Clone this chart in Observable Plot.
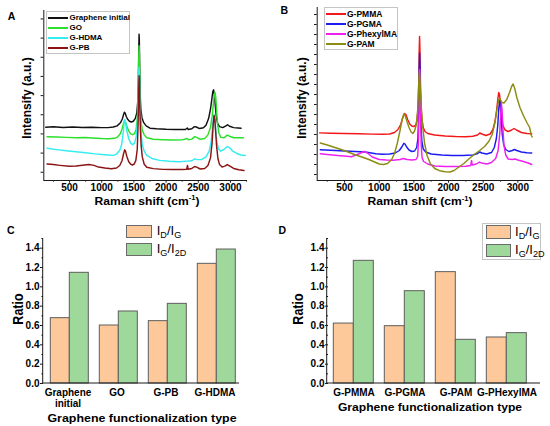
<!DOCTYPE html>
<html><head><meta charset="utf-8">
<script src="https://cdn.jsdelivr.net/npm/d3@7"></script>
<script src="https://cdn.jsdelivr.net/npm/@observablehq/plot@0.6"></script>
<style>
body{margin:0;background:#fff;}
#fig{position:relative;width:550px;height:426px;background:#fff;font-family:"Liberation Sans",Arial,sans-serif;color:#000;overflow:hidden}
.panel{position:absolute;width:275px}
.panel svg{display:block}
.lbl{position:absolute;white-space:nowrap;line-height:1;transform-origin:50% 50%}
.sup{font-size:0.62em;position:relative;top:-0.6em}
.sub{font-size:0.7em;position:relative;top:0.32em}
.box{position:absolute;border:1px solid #c4c4c4;box-sizing:border-box}
.lline{position:absolute;height:2px}
.sw{position:absolute;box-sizing:border-box;border:1px solid #6a6a6a}
</style></head><body><div id="fig"></div>
<script>
// ---------------- DATA ----------------
const ramanTicks = [500, 1000, 1500, 2000, 2500, 3000];
const ramanMinorTicks = [250, 750, 1250, 1750, 2250, 2750, 3250];
const intensityTicksA = [0, 1, 2, 3, 4, 5, 6, 7, 8];
const intensityTicksB = [0, 1, 2, 3, 4, 5, 6, 7, 8, 9, 10, 11, 12, 13, 14, 15, 16];

// Panel A spectra: [Raman shift (cm-1), intensity (a.u., offset)]
const grapheneInitial = [[130,2.35],[250,2.37],[400,2.34],[550,2.36],[700,2.34],[850,2.35],[1000,2.33],[1100,2.33],[1180,2.36],[1240,2.42],[1290,2.58],[1320,2.78],[1340,3.02],[1352,3.13],[1365,3.08],[1380,2.92],[1400,2.78],[1430,2.66],[1460,2.62],[1490,2.66],[1520,2.8],[1545,3.1],[1560,3.7],[1570,4.9],[1576,6.5],[1580,7.2],[1584,6.9],[1590,5.4],[1597,4.1],[1607,3.3],[1625,2.85],[1650,2.6],[1690,2.42],[1750,2.3],[1850,2.27],[2000,2.24],[2150,2.23],[2300,2.23],[2330,2.31],[2345,2.23],[2400,2.27],[2440,2.38],[2470,2.36],[2520,2.28],[2580,2.32],[2620,2.45],[2660,2.8],[2690,3.3],[2710,3.8],[2725,4.2],[2738,4.3],[2750,4.05],[2765,3.45],[2780,2.9],[2800,2.55],[2830,2.38],[2880,2.33],[2930,2.42],[2955,2.48],[2985,2.4],[3050,2.33],[3120,2.31],[3165,2.3]];
const grapheneOxide = [[150,1.85],[300,1.84],[450,1.82],[600,1.8],[750,1.81],[850,1.79],[1000,1.76],[1100,1.75],[1200,1.77],[1250,1.85],[1290,2.02],[1320,2.3],[1340,2.58],[1355,2.7],[1370,2.62],[1390,2.4],[1420,2.15],[1450,2.0],[1480,1.96],[1510,2.02],[1535,2.25],[1555,2.9],[1567,4.2],[1575,5.9],[1580,6.6],[1585,6.2],[1592,4.6],[1600,3.4],[1612,2.6],[1630,2.2],[1660,1.95],[1700,1.8],[1800,1.72],[1950,1.7],[2100,1.68],[2250,1.69],[2330,1.76],[2345,1.69],[2400,1.73],[2445,1.86],[2475,1.82],[2530,1.72],[2600,1.76],[2650,1.95],[2690,2.35],[2715,2.9],[2735,3.6],[2750,4.05],[2760,4.17],[2772,3.9],[2785,3.2],[2800,2.5],[2820,2.05],[2850,1.82],[2900,1.8],[2950,1.94],[2985,1.88],[3050,1.8],[3130,1.8],[3200,1.8]];
const grapheneHDMA = [[150,1.25],[300,1.18],[450,1.12],[600,1.07],[750,1.02],[900,0.96],[1000,0.93],[1100,0.9],[1180,0.88],[1230,0.95],[1280,1.15],[1310,1.45],[1335,2.1],[1350,2.65],[1360,2.75],[1372,2.55],[1390,2.15],[1420,1.75],[1450,1.52],[1480,1.44],[1510,1.52],[1535,1.85],[1555,2.6],[1567,3.8],[1575,5.0],[1580,5.48],[1585,5.2],[1592,4.0],[1600,2.9],[1612,2.0],[1630,1.45],[1660,1.1],[1700,0.88],[1780,0.72],[1900,0.62],[2050,0.57],[2200,0.55],[2330,0.58],[2400,0.6],[2445,0.7],[2480,0.66],[2550,0.66],[2620,0.8],[2670,1.1],[2700,1.6],[2720,2.3],[2735,2.85],[2746,3.0],[2758,2.8],[2772,2.2],[2790,1.55],[2815,1.2],[2850,1.1],[2900,1.2],[2950,1.34],[2980,1.3],[3030,1.12],[3100,0.98],[3160,0.9],[3230,0.87]];
const graphenePB = [[150,0.43],[250,0.4],[350,0.36],[500,0.31],[600,0.33],[700,0.37],[800,0.4],[880,0.36],[950,0.27],[1050,0.22],[1150,0.18],[1230,0.22],[1280,0.35],[1315,0.6],[1340,0.98],[1357,1.17],[1370,1.1],[1390,0.82],[1420,0.55],[1450,0.42],[1475,0.38],[1505,0.43],[1530,0.62],[1552,1.2],[1565,2.5],[1574,4.2],[1580,5.04],[1585,4.8],[1592,3.5],[1600,2.3],[1612,1.4],[1630,0.8],[1660,0.42],[1700,0.26],[1800,0.19],[1950,0.15],[2100,0.14],[2250,0.14],[2320,0.15],[2332,0.36],[2342,0.16],[2400,0.2],[2445,0.3],[2475,0.27],[2530,0.17],[2600,0.2],[2650,0.35],[2690,0.75],[2715,1.55],[2732,2.5],[2745,2.96],[2757,2.75],[2770,2.1],[2785,1.35],[2805,0.72],[2830,0.4],[2870,0.27],[2920,0.33],[2950,0.4],[2985,0.33],[3050,0.2],[3130,0.13],[3210,0.09]];

// Panel B spectra
const graphenePMMA = [[140,4.16],[300,4.12],[500,4.1],[700,4.08],[900,4.04],[1050,4.02],[1150,4.05],[1220,4.2],[1270,4.5],[1310,5.0],[1340,5.7],[1365,6.1],[1385,6.0],[1410,5.5],[1440,5.05],[1470,4.85],[1500,4.8],[1525,4.9],[1545,5.4],[1560,6.6],[1570,9.0],[1577,12.5],[1582,13.8],[1587,12.6],[1594,9.5],[1602,7.0],[1615,5.5],[1635,4.7],[1660,4.3],[1700,4.1],[1800,3.95],[1950,3.85],[2100,3.8],[2250,3.78],[2350,3.82],[2420,3.95],[2450,4.15],[2480,4.05],[2540,3.9],[2600,4.05],[2640,4.5],[2670,5.3],[2695,6.5],[2712,7.6],[2724,8.2],[2736,8.0],[2750,7.0],[2765,5.8],[2785,4.9],[2815,4.45],[2860,4.3],[2910,4.45],[2945,4.6],[2980,4.45],[3050,4.2],[3130,4.1],[3200,4.08]];
const graphenePGMA = [[150,2.48],[300,2.42],[500,2.35],[650,2.3],[800,2.25],[950,2.08],[1050,2.02],[1150,2.05],[1230,2.15],[1290,2.4],[1330,2.8],[1355,3.12],[1372,3.05],[1395,2.75],[1430,2.45],[1470,2.3],[1510,2.35],[1540,2.7],[1558,3.6],[1569,6.0],[1577,10.5],[1582,12.15],[1587,11.0],[1594,7.8],[1602,5.0],[1615,3.3],[1635,2.55],[1670,2.25],[1750,2.05],[1900,1.95],[2050,1.9],[2200,1.9],[2350,1.95],[2420,2.1],[2450,2.25],[2480,2.15],[2550,2.05],[2620,2.2],[2660,2.7],[2690,3.6],[2710,4.9],[2725,6.6],[2737,7.45],[2748,6.9],[2760,5.5],[2775,4.0],[2795,3.0],[2825,2.5],[2870,2.3],[2920,2.4],[2950,2.5],[2985,2.4],[3050,2.25],[3130,2.18],[3200,2.15]];
const graphenePhexylMA = [[150,2.08],[250,2.0],[400,1.9],[500,1.85],[600,1.78],[700,2.05],[780,2.3],[830,2.15],[900,1.75],[1000,1.5],[1100,1.45],[1200,1.42],[1300,1.5],[1350,1.6],[1400,1.5],[1470,1.45],[1530,1.5],[1555,1.8],[1567,3.5],[1576,7.5],[1583,10.5],[1589,9.5],[1596,6.0],[1605,3.0],[1618,1.7],[1640,1.3],[1700,1.05],[1800,0.85],[1950,0.8],[2100,0.8],[2250,0.82],[2320,0.9],[2332,1.41],[2342,0.95],[2400,1.05],[2445,1.24],[2480,1.15],[2550,1.05],[2620,1.2],[2680,1.6],[2715,2.4],[2738,4.0],[2752,6.0],[2762,7.1],[2772,6.5],[2785,4.5],[2800,2.9],[2825,1.95],[2860,1.55],[2920,1.5],[2960,1.55],[3000,1.45],[3080,1.3],[3150,1.15],[3200,1.0]];
const graphenePAM = [[150,3.15],[250,2.95],[350,2.72],[450,2.5],[550,2.25],[650,1.98],[750,1.75],[850,1.5],[950,1.2],[1000,1.05],[1060,1.0],[1120,1.1],[1180,1.5],[1220,2.1],[1260,3.1],[1300,4.4],[1330,5.5],[1355,6.05],[1375,5.9],[1400,5.3],[1430,4.7],[1460,4.25],[1485,4.1],[1510,4.35],[1535,5.0],[1555,6.5],[1568,8.8],[1578,10.3],[1585,9.9],[1595,8.2],[1610,6.4],[1630,4.6],[1655,3.1],[1690,1.9],[1740,1.05],[1800,0.6],[1870,0.38],[1950,0.28],[2020,0.25],[2080,0.4],[2150,0.75],[2220,1.1],[2300,1.6],[2380,2.05],[2450,2.4],[2520,2.8],[2580,3.3],[2630,4.0],[2670,5.2],[2700,6.6],[2725,7.5],[2745,7.55],[2770,7.2],[2800,7.15],[2840,7.5],[2880,8.2],[2910,8.8],[2932,9.05],[2955,8.6],[2985,7.7],[3030,6.7],[3080,5.9],[3130,5.2],[3170,4.7],[3195,3.9],[3205,3.76]];

// Panels C & D bar data
const ratioSeries = ["ID/IG", "IG/I2D"];
const categoriesC = ["Graphene initial", "GO", "G-PB", "G-HDMA"];
const idIgC = [0.676, 0.60, 0.645, 1.238];
const igI2dC = [1.145, 0.745, 0.824, 1.386];
const categoriesD = ["G-PMMA", "G-PGMA", "G-PAM", "G-PHexylMA"];
const idIgD = [0.62, 0.593, 1.152, 0.476];
const igI2dD = [1.269, 0.955, 0.452, 0.521];
const ratioTicks = [0, 0.2, 0.4, 0.6, 0.8, 1.0, 1.2, 1.4];
const ratioMinorTicks = [0.1, 0.3, 0.5, 0.7, 0.9, 1.1, 1.3, 1.5];

// ---------------- STYLE ----------------
const FONT = '"Liberation Sans", Arial, sans-serif';
const AX = "#1a1a1a";
const colA = {"Graphene initial": "#111111", "GO": "#2be02b", "G-HDMA": "#35ecf0", "G-PB": "#8b1414"};
const colB = {"G-PMMA": "#f21818", "G-PGMA": "#1c1cf0", "G-PhexylMA": "#f020f0", "G-PAM": "#8c8c14"};
const barColors = ["#fdc89a", "#9fd89b"];

const fig = document.getElementById("fig");
function place(node, left, top) {
  const w = document.createElement("div");
  w.className = "panel"; w.style.left = left + "px"; w.style.top = top + "px";
  w.appendChild(node); fig.appendChild(w);
}
function text(html, x, y, {size = 12, weight = "bold", rotate = false, sx = 1, left = false} = {}) {
  const d = document.createElement("div");
  d.className = "lbl"; d.innerHTML = html;
  d.style.left = x + "px"; d.style.top = y + "px";
  d.style.fontSize = size + "px"; d.style.fontWeight = weight;
  if (left) { d.style.transformOrigin = "0 50%"; d.style.transform = `translate(0,-50%) scaleX(${sx})`; }
  else d.style.transform = `translate(-50%,-50%) scaleX(${sx})` + (rotate ? " rotate(-90deg)" : "");
  fig.appendChild(d);
}
function div(cls, x, y, w, h, bg) {
  const d = document.createElement("div");
  d.className = cls;
  Object.assign(d.style, {left: x + "px", top: y + "px", width: w + "px", height: h + "px"});
  if (bg) d.style.background = bg;
  fig.appendChild(d);
}
const plotStyle = {fontFamily: FONT, fontSize: "10px", fontWeight: "bold", color: "#000", background: "transparent", overflow: "visible"};

function spectrum(series, xDomain, yDomain, yTicks, m) {
  return Plot.plot({
    width: 275, height: 195,
    marginLeft: m.left, marginRight: m.right, marginTop: m.top, marginBottom: m.bottom,
    x: {domain: xDomain},
    y: {domain: yDomain},
    style: plotStyle,
    marks: [
      ...series.map(s => Plot.line(s.data, {x: d => d[0], y: d => d[1], stroke: s.color, strokeWidth: 1.45})),
      Plot.ruleX([xDomain[0]], {stroke: AX, strokeWidth: 1}),
      Plot.ruleY([yDomain[0]], {stroke: AX, strokeWidth: 1}),
      Plot.axisX({ticks: ramanTicks, tickSize: 2.7, tickPadding: 0.6, tickFormat: d => String(d), label: null, stroke: AX}),
      Plot.axisX({ticks: ramanMinorTicks.filter(t => t > xDomain[0] && t < xDomain[1]), tickSize: 1.6, tickFormat: () => "", label: null, stroke: AX}),
      Plot.axisY({ticks: yTicks, tickSize: 2.7, tickFormat: () => "", label: null, stroke: AX})
    ]
  });
}

function bars(cats, s1, s2, m, xOpts, fmt, axisEnd) {
  const data = cats.flatMap((c, i) => [
    {cat: c, series: ratioSeries[0], value: s1[i]},
    {cat: c, series: ratioSeries[1], value: s2[i]}
  ]);
  const W = 275, H = 200;
  const svg = Plot.plot({
    width: W, height: H,
    marginLeft: m.left, marginRight: m.right, marginTop: m.top, marginBottom: m.bottom,
    fx: {domain: cats, padding: 0},
    x: {domain: ratioSeries, paddingInner: 0, axis: null, ...xOpts},
    y: {domain: [0, 1.5]},
    color: {domain: ratioSeries, range: barColors},
    style: plotStyle,
    marks: [
      Plot.barY(data, {fx: "cat", x: "series", y: "value", fill: "series", stroke: "#5e5e5e", strokeWidth: 1}),
      Plot.axisY({ticks: ratioTicks, tickSize: 3, tickPadding: 1, tickFormat: d3.format(".1f"), label: null, stroke: AX}),
      Plot.axisY({ticks: ratioMinorTicks, tickSize: 1.6, tickFormat: () => "", label: null, stroke: AX}),
      Plot.axisFx({anchor: "bottom", tickSize: 0, tickPadding: 5.5, tickFormat: fmt, lineHeight: 1.05, label: null})
    ]
  });
  const s = d3.select(svg);
  s.append("line").attr("x1", m.left).attr("x2", axisEnd).attr("y1", H - m.bottom).attr("y2", H - m.bottom).attr("stroke", AX).attr("stroke-width", 1);
  s.append("line").attr("x1", m.left).attr("x2", m.left).attr("y1", m.top).attr("y2", H - m.bottom).attr("stroke", AX).attr("stroke-width", 1);
  return svg;
}

// ---------------- PANELS ----------------
const seriesA = [
  {data: grapheneInitial, color: colA["Graphene initial"]},
  {data: grapheneOxide, color: colA["GO"]},
  {data: grapheneHDMA, color: colA["G-HDMA"]},
  {data: graphenePB, color: colA["G-PB"]}
];
const seriesB = [
  {data: graphenePMMA, color: colB["G-PMMA"]},
  {data: graphenePGMA, color: colB["G-PGMA"]},
  {data: graphenePhexylMA, color: colB["G-PhexylMA"]},
  {data: graphenePAM, color: colB["G-PAM"]}
];
place(spectrum(seriesA, [100, 3260], [-0.43, 8.44], intensityTicksA, {left: 43.3, right: 28.3, top: 10, bottom: 15}), 0, 0);
place(spectrum(seriesB, [105, 3230], [-0.6, 16.7], intensityTicksB, {left: 41.7, right: 16.7, top: 7, bottom: 15}), 275, 0);

place(bars(categoriesC, idIgC, igI2dC, {left: 42.7, right: 36, top: 25, bottom: 30},
  {paddingOuter: 0.265, align: 0.65}, d => d === "Graphene initial" ? "Graphene\ninitial" : d, 239), 0, 213);
place(bars(categoriesD, idIgD, igI2dD, {left: 51.7, right: 16.5, top: 25, bottom: 30},
  {paddingOuter: 0.26}, d => d, 265), 275, 213);

// ---------------- TEXT ----------------
text("A", 11.5, 16.3, {size: 10.5});
text("B", 284.3, 9.7, {size: 10.5});
text("C", 10.7, 229.5, {size: 10.5});
text("D", 282.3, 229.5, {size: 10.5});

const raman = 'Raman shift (cm<span class="sup">-1</span>)';
text(raman, 146.5, 200.5, {size: 11, sx: 1.1});
text(raman, 420, 201, {size: 11, sx: 1.1});
text("Intensify (a.u.)", 26.7, 97.5, {size: 12, rotate: true, sx: 1.1});
text("Intensify (a.u.)", 301.7, 97.5, {size: 12, rotate: true, sx: 1.1});
text("Graphene functionalization type", 142, 417.5, {size: 11, sx: 1.13});
text("Graphene functionalization type", 430, 406.5, {size: 11, sx: 1.1});
text("Ratio", 19, 309.3, {size: 12.5, rotate: true, sx: 1.1});
text("Ratio", 299.2, 309, {size: 12.5, rotate: true, sx: 1.1});

// Legend A
div("box", 46, 11, 84, 43);
const legA = ["Graphene initial", "GO", "G-HDMA", "G-PB"];
const rowsA = [17.7, 27.7, 37.7, 47.7];
legA.forEach((k, i) => { div("lline", 47.5, rowsA[i] - 1, 20.5, 2, colA[k]); text(k, 69.5, rowsA[i], {size: 8, left: true}); });
// Legend B
div("box", 323.5, 6.5, 74.5, 43.5);
const legB = ["G-PMMA", "G-PGMA", "G-PhexylMA", "G-PAM"];
const rowsB = [13.5, 23.7, 33.9, 44];
legB.forEach((k, i) => { div("lline", 325.5, rowsB[i] - 1, 20, 2, colB[k]); text(k, 347, rowsB[i], {size: 8.5, left: true}); });

// Legends C & D
const legRatio = ['I<span class="sub">D</span>/I<span class="sub">G</span>', 'I<span class="sub">G</span>/I<span class="sub">2D</span>'];
[[126, 224.7, 156.7, [231.4, 249]], [485.7, 225.3, 515, [232, 250.3]]].forEach(([sx, sy, tx, ty], p) => {
  if (p === 1) div("box", 482.3, 223, 59, 37.3);
  div("sw", sx, sy, 25.7, 13.4, barColors[0]);
  div("sw", sx, sy + 18.4, 25.7, 13.4, barColors[1]);
  legRatio.forEach((h, i) => text(h, tx, ty[i], {size: 13, weight: "normal", left: true}));
});
</script></body></html>
